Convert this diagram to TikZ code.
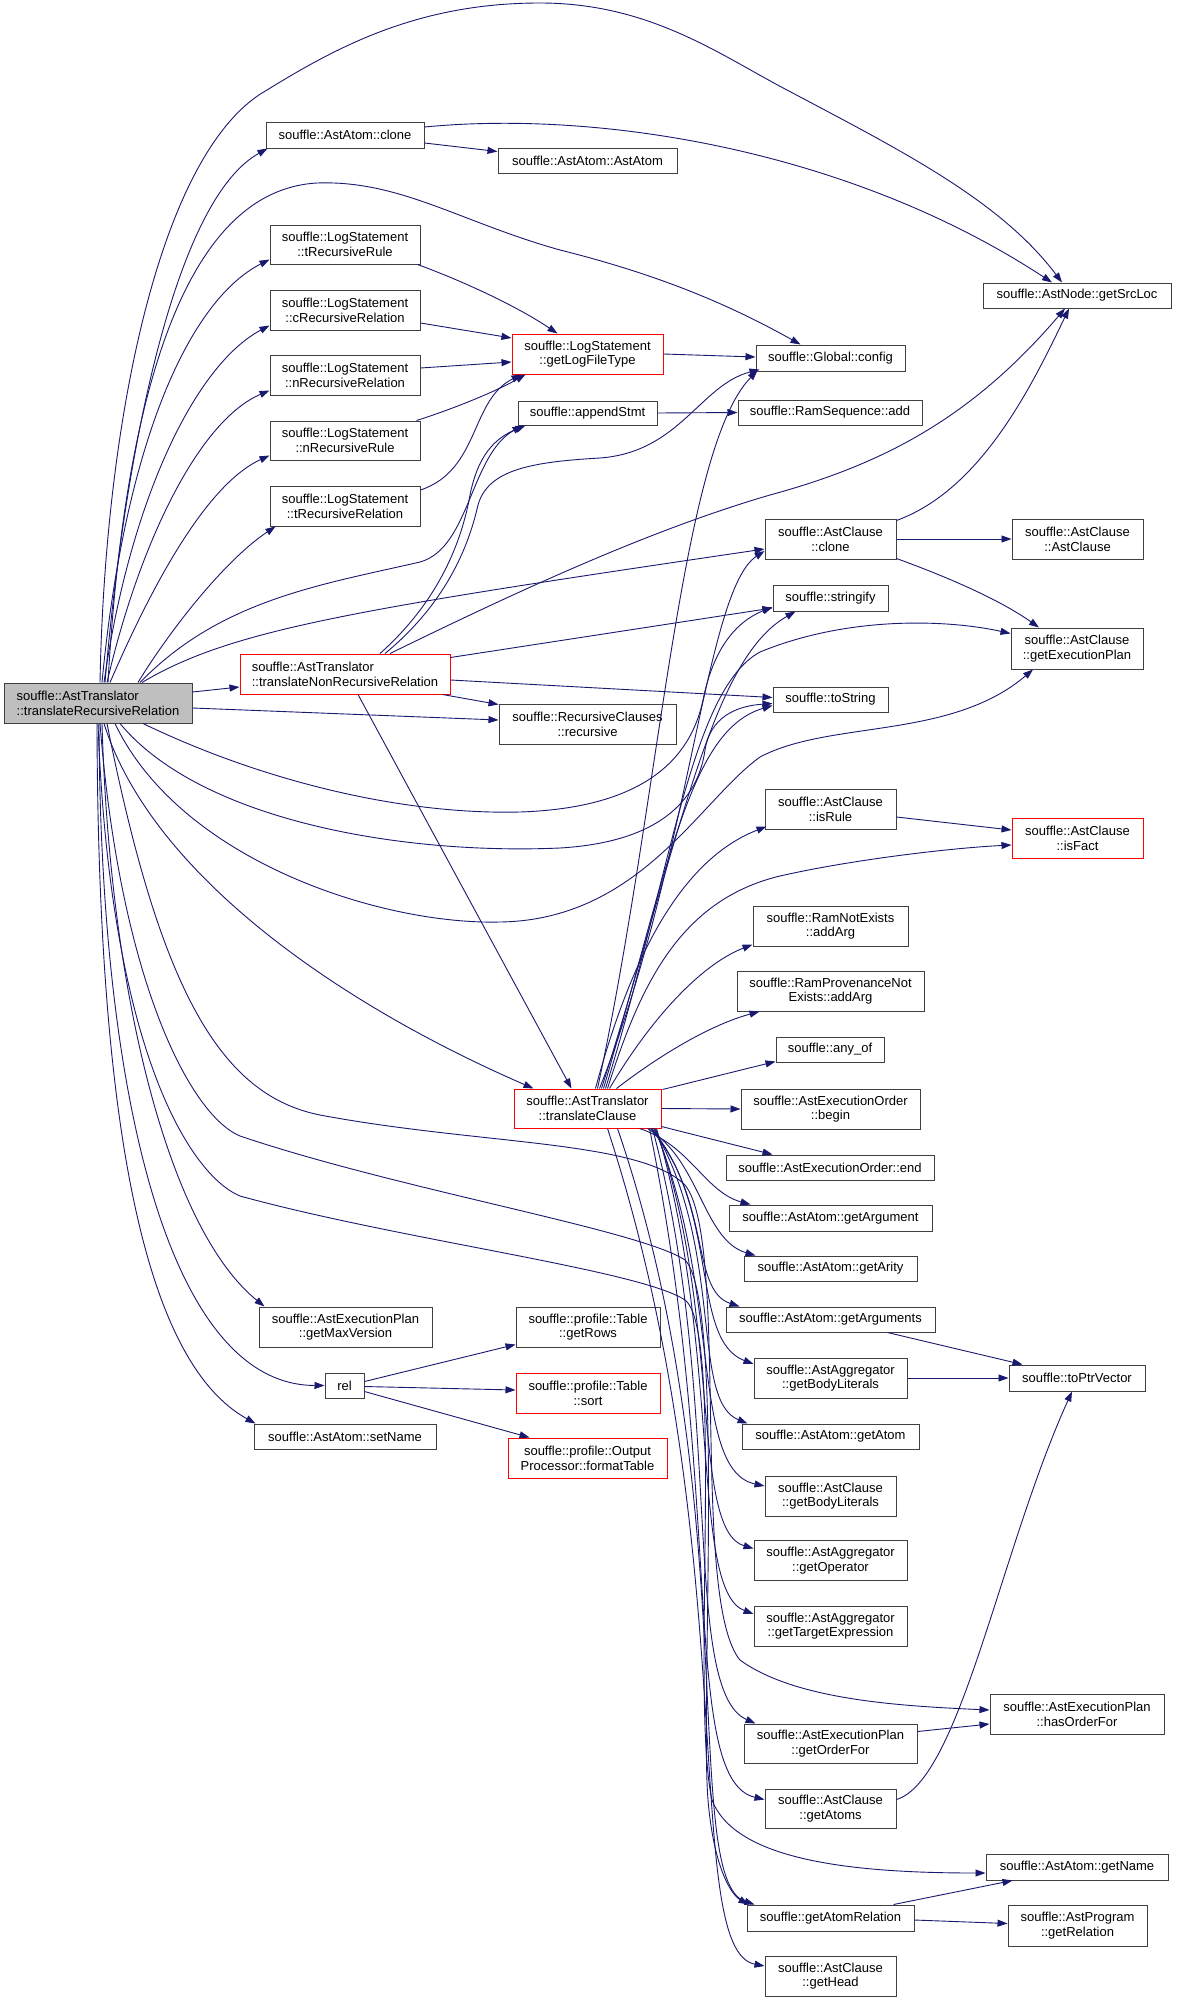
\documentclass[tikz,border=0pt]{standalone}
\usepackage{fontspec}
\setmainfont{Liberation Sans}
\usetikzlibrary{arrows.meta,calc}
\definecolor{edgeblue}{HTML}{191970}
\definecolor{boxgrey}{HTML}{BFBFBF}
\definecolor{boxline}{HTML}{404040}
\newcommand\nodefont{\fontsize{13}{14.7}\selectfont}
\tikzset{
  box/.style={draw=boxline, fill=white, line width=1pt, inner sep=0pt, align=center, font=\nodefont, text=black},
  redbox/.style={box, draw=red},
  wh/.style 2 args={minimum width=#1pt, minimum height=#2pt},
  e/.style={draw=edgeblue, line width=0.9pt, -{Triangle[length=10pt,width=7pt]}},
}
\begin{document}
\begin{tikzpicture}[x=1pt,y=-1pt]
\fill[white] (0,0) rectangle (1176,2002);
\useasboundingbox (0,0) rectangle (1176,2002);

% ---- nodes ----
\node[box,wh={188}{40},fill=boxgrey,align=left] (T) at (98,703) {souffle::AstTranslator\\::translateRecursiveRelation};
\node[box,wh={158}{26}] (aclone) at (345,135) {souffle::AstAtom::clone};
\node[box,wh={179}{25}] (aatom) at (587.5,160.5) {souffle::AstAtom::AstAtom};
\node[box,wh={150}{39}] (tRR) at (345,244.5) {souffle::LogStatement\\::tRecursiveRule};
\node[box,wh={150}{40}] (cRR) at (345,310) {souffle::LogStatement\\::cRecursiveRelation};
\node[box,wh={150}{40}] (nRRel) at (345,375) {souffle::LogStatement\\::nRecursiveRelation};
\node[box,wh={150}{39}] (nRRule) at (345,440.5) {souffle::LogStatement\\::nRecursiveRule};
\node[box,wh={150}{40}] (tRRel) at (345,506) {souffle::LogStatement\\::tRecursiveRelation};
\node[redbox,wh={151}{40}] (glft) at (587.5,354) {souffle::LogStatement\\::getLogFileType};
\node[box,wh={139}{24}] (apst) at (587.5,413) {souffle::appendStmt};
\node[box,wh={188}{25}] (srcloc) at (1077,295.5) {souffle::AstNode::getSrcLoc};
\node[box,wh={149}{26}] (config) at (830.5,358) {souffle::Global::config};
\node[box,wh={184}{25}] (ramadd) at (830,412.5) {souffle::RamSequence::add};
\node[box,wh={131}{40}] (cclone) at (830.5,539) {souffle::AstClause\\::clone};
\node[box,wh={131}{40}] (cctor) at (1077.5,539) {souffle::AstClause\\::AstClause};
\node[box,wh={115}{26}] (strfy) at (830.5,598) {souffle::stringify};
\node[box,wh={132}{41}] (gep) at (1077,648.5) {souffle::AstClause\\::getExecutionPlan};
\node[box,wh={115}{25}] (tostr) at (830.5,699.5) {souffle::toString};
\node[box,wh={131}{40}] (isrule) at (830.5,809) {souffle::AstClause\\::isRule};
\node[redbox,wh={131}{40}] (isfact) at (1077.5,838) {souffle::AstClause\\::isFact};
\node[redbox,wh={210}{40},align=left] (tnrr) at (345,674) {souffle::AstTranslator\\::translateNonRecursiveRelation};
\node[box,wh={177}{40}] (recur) at (587.5,724) {souffle::RecursiveClauses\\::recursive};
\node[redbox,wh={147}{39}] (tc) at (587.5,1108.5) {souffle::AstTranslator\\::translateClause};
\node[box,wh={155}{40}] (rneaa) at (830.5,926) {souffle::RamNotExists\\::addArg};
\node[box,wh={187}{40}] (rpnaa) at (830.5,991) {souffle::RamProvenanceNot\\Exists::addArg};
\node[box,wh={108}{25}] (anyof) at (830,1049.5) {souffle::any\_of};
\node[box,wh={179}{40}] (eobegin) at (830.5,1109) {souffle::AstExecutionOrder\\::begin};
\node[box,wh={208}{25}] (eoend) at (830,1167.5) {souffle::AstExecutionOrder::end};
\node[box,wh={203}{26}] (getarg) at (830.5,1218) {souffle::AstAtom::getArgument};
\node[box,wh={173}{25}] (getarity) at (830.5,1268.5) {souffle::AstAtom::getArity};
\node[box,wh={209}{25}] (getargs) at (830.5,1319.5) {souffle::AstAtom::getArguments};
\node[box,wh={136}{26}] (toptr) at (1077,1378) {souffle::toPtrVector};
\node[box,wh={153}{40}] (agbl) at (830.5,1378) {souffle::AstAggregator\\::getBodyLiterals};
\node[box,wh={177}{25}] (getatom) at (830.5,1436.5) {souffle::AstAtom::getAtom};
\node[box,wh={131}{40}] (cgbl) at (830.5,1496) {souffle::AstClause\\::getBodyLiterals};
\node[box,wh={153}{40}] (getop) at (830.5,1560.5) {souffle::AstAggregator\\::getOperator};
\node[box,wh={153}{40}] (gettarget) at (830.5,1626) {souffle::AstAggregator\\::getTargetExpression};
\node[box,wh={174}{40}] (hasorder) at (1077,1714) {souffle::AstExecutionPlan\\::hasOrderFor};
\node[box,wh={173}{39}] (getorder) at (830.5,1743.5) {souffle::AstExecutionPlan\\::getOrderFor};
\node[box,wh={131}{39}] (getatoms) at (830.5,1808.5) {souffle::AstClause\\::getAtoms};
\node[box,wh={182}{26}] (getname) at (1077,1867) {souffle::AstAtom::getName};
\node[box,wh={167}{26}] (getatomrel) at (830.5,1918) {souffle::getAtomRelation};
\node[box,wh={139}{41}] (getrel) at (1077.5,1925.5) {souffle::AstProgram\\::getRelation};
\node[box,wh={131}{40}] (gethead) at (830.5,1976) {souffle::AstClause\\::getHead};
\node[box,wh={173}{40}] (maxver) at (345.5,1327) {souffle::AstExecutionPlan\\::getMaxVersion};
\node[box,wh={39}{25}] (rel) at (344.5,1385.5) {rel};
\node[box,wh={182}{25}] (setname) at (345,1436.5) {souffle::AstAtom::setName};
\node[box,wh={144}{40}] (getrows) at (588,1327) {souffle::profile::Table\\::getRows};
\node[redbox,wh={144}{40}] (sort) at (588,1393) {souffle::profile::Table\\::sort};
\node[redbox,wh={159}{40}] (fmt) at (587.5,1458) {souffle::profile::Output\\Processor::formatTable};

% ---- edges from translateRecursiveRelation ----
\draw[e] ($(T.north)+(2,0)$) .. controls (105,420) and (160,150) .. (267,90) .. controls (340,45) and (420,3) .. (540,3) .. controls (650,3) and (720,55) .. (787,90) .. controls (900,150) and (1000,200) .. ($(srcloc.north)+(-15,0)$);
\draw[e] ($(T.north)+(7,0)$) .. controls (125,450) and (175,200) .. ($(aclone.south west)+(2,0)$);
\draw[e] ($(T.north)+(10,0)$) .. controls (125,380) and (190,190) .. (317,183) .. controls (400,180) and (460,222) .. (560,250) .. controls (660,275) and (730,305) .. ($(config.north)+(-30,0)$);
\draw[e] ($(T.north)+(4,0)$) .. controls (125,440) and (190,300) .. ($(tRR.south west)+(0,-5)$);
\draw[e] ($(T.north)+(6,0)$) .. controls (130,500) and (195,365) .. ($(cRR.south west)+(0,-5)$);
\draw[e] ($(T.north)+(9,0)$) .. controls (140,540) and (200,420) .. ($(nRRel.south west)+(0,-5)$);
\draw[e] ($(T.north)+(12,0)$) .. controls (150,590) and (205,485) .. ($(nRRule.south west)+(0,-5)$);
\draw[e] ($(T.north)+(40,0)$) .. controls (170,630) and (225,560) .. ($(tRRel.south west)+(6,0)$);
\draw[e] ($(T.north)+(42,0)$) .. controls (220,600) and (320,585) .. (420,562) .. controls (470,548) and (470,455) .. ($(apst.south west)+(5,0)$);
\draw[e] ($(T.north)+(44,0)$) .. controls (230,630) and (350,610) .. ($(cclone.west)+(0,10)$);
\draw[e] ($(T.east)+(0,-11)$) -- ($(tnrr.west)+(0,13)$);
\draw[e] ($(T.east)+(0,5)$) -- ($(recur.west)+(0,-4)$);
\draw[e] ($(T.south)+(45,0)$) .. controls (260,780) and (400,815) .. (520,812) .. controls (640,808) and (690,762) .. (703,700) .. controls (713,650) and (735,622) .. ($(strfy.west)+(0,9)$);
\draw[e] ($(T.south)+(22,0)$) .. controls (200,820) and (400,855) .. (560,848) .. controls (660,842) and (698,800) .. (705,750) .. controls (710,718) and (735,706) .. ($(tostr.west)+(0,4)$);
\draw[e] ($(T.south)+(17,0)$) .. controls (180,860) and (380,925) .. (500,922) .. controls (640,920) and (700,800) .. (760,757) .. controls (830,720) and (950,740) .. ($(gep.south)+(-44,0)$);
\draw[e] ($(T.south)+(6,0)$) .. controls (150,870) and (330,1000) .. ($(tc.north west)+(20,0)$);
\draw[e] ($(T.south)+(4,0)$) .. controls (110,1000) and (170,1230) .. ($(maxver.north west)+(6,0)$);
\draw[e] ($(T.south)+(1,0)$) .. controls (100,1100) and (170,1385) .. (rel.west);
\draw[e] ($(T.south)+(-1,0)$) .. controls (98,1150) and (150,1365) .. ($(setname.north west)+(2,0)$);
\draw[e] ($(T.south)+(9,0)$) .. controls (160,990) and (220,1095) .. (320,1115) .. controls (480,1145) and (640,1140) .. (685,1185) .. controls (730,1240) and (690,1600) .. (740,1660) .. controls (795,1700) and (900,1706) .. ($(hasorder.west)+(0,-4)$);
\draw[e] ($(T.south)+(2,0)$) .. controls (120,980) and (190,1115) .. (240,1136) .. controls (400,1190) and (640,1230) .. (685,1260) .. controls (725,1300) and (700,1700) .. (708,1800) .. controls (714,1870) and (732,1895) .. ($(getatomrel.north west)+(2,0)$);
\draw[e] (T.south) .. controls (110,1050) and (190,1175) .. (240,1196) .. controls (400,1240) and (640,1270) .. (685,1300) .. controls (725,1330) and (690,1700) .. (712,1800) .. controls (735,1860) and (850,1873) .. ($(getname.west)+(0,6)$);

% ---- AstAtom::clone / LogStatement ----
\draw[e] ($(aclone.east)+(0,-8)$) .. controls (600,110) and (850,150) .. ($(srcloc.north)+(-25,0)$);
\draw[e] ($(aclone.east)+(0,8)$) -- ($(aatom.west)+(0,-9)$);
\draw[e] (glft.east) -- ($(config.west)+(0,-1)$);
\draw[e] ($(tRR.south east)+(-3,0)$) .. controls (460,280) and (515,305) .. ($(glft.north)+(-30,0)$);
\draw[e] ($(cRR.east)+(0,13)$) -- ($(glft.west)+(0,-16)$);
\draw[e] ($(nRRel.east)+(0,-7)$) -- ($(glft.west)+(0,8)$);
\draw[e] ($(nRRule.north east)+(-4,0)$) .. controls (450,410) and (495,392) .. ($(glft.south west)+(14,0)$);
\draw[e] ($(tRRel.east)+(0,-16)$) .. controls (480,470) and (470,400) .. ($(glft.south west)+(10,0)$);
\draw[e] (apst.east) -- (ramadd.west);

% ---- translateNonRecursiveRelation ----
\draw[e] ($(tnrr.north)+(35,0)$) .. controls (440,600) and (462,540) .. (470,495) .. controls (478,455) and (495,438) .. ($(apst.south west)+(8,0)$);
\draw[e] ($(tnrr.north)+(40,0)$) .. controls (450,600) and (470,540) .. (478,505) .. controls (488,470) and (530,462) .. (600,458) .. controls (680,452) and (700,385) .. ($(config.south west)+(4,-2)$);
\draw[e] ($(tnrr.north)+(45,0)$) .. controls (520,590) and (650,530) .. (770,495) .. controls (880,465) and (970,420) .. ($(srcloc.south)+(-12,0)$);
\draw[e] ($(tnrr.south east)+(-8,0)$) -- ($(recur.north west)+(0,1)$);
\draw[e] ($(tnrr.north east)+(0,4)$) -- ($(strfy.west)+(0,10)$);
\draw[e] ($(tnrr.east)+(0,6)$) -- ($(tostr.west)+(0,-2)$);
\draw[e] ($(tnrr.south)+(13,0)$) -- ($(tc.north)+(-16,0)$);

% ---- AstClause::clone ----
\draw[e] ($(cclone.north east)+(0,2)$) .. controls (980,490) and (1030,390) .. ($(srcloc.south)+(-8,0)$);
\draw[e] (cclone.east) -- (cctor.west);
\draw[e] ($(cclone.south east)+(0,-1)$) .. controls (950,578) and (1000,600) .. ($(gep.north)+(-38,0)$);
\draw[e] ($(isrule.east)+(0,8)$) -- ($(isfact.west)+(0,-8)$);

% ---- translateClause upward ----
\draw[e] ($(tc.north)+(10,0)$) .. controls (660,800) and (680,450) .. ($(config.south west)+(2,-1)$);
\draw[e] ($(tc.north)+(12,0)$) .. controls (690,860) and (705,590) .. ($(cclone.west)+(0,12)$);
\draw[e] ($(tc.north)+(14,0)$) .. controls (680,840) and (710,660) .. ($(strfy.south)+(-35,0)$);
\draw[e] ($(tc.north)+(16,0)$) .. controls (670,860) and (690,730) .. ($(tostr.west)+(0,6)$);
\draw[e] ($(tc.north)+(18,0)$) .. controls (670,880) and (690,690) .. (760,652) .. controls (850,615) and (950,620) .. ($(gep.west)+(0,-15)$);
\draw[e] ($(tc.north)+(8,0)$) .. controls (630,960) and (680,860) .. ($(isrule.south west)+(2,-3)$);
\draw[e] ($(tc.north)+(20,0)$) .. controls (640,985) and (680,900) .. (780,876) .. controls (850,860) and (950,848) .. ($(isfact.west)+(0,7)$);
\draw[e] ($(tc.north)+(22,0)$) .. controls (650,1020) and (700,965) .. ($(rneaa.south west)+(0,-2)$);
\draw[e] ($(tc.north east)+(-45,0)$) .. controls (660,1055) and (710,1025) .. ($(rpnaa.south west)+(23,0)$);
\draw[e] ($(tc.north east)+(1,1)$) -- ($(anyof.south west)+(0,-1)$);
\draw[e] (tc.east) -- (eobegin.west);
\draw[e] ($(tc.south east)+(0,-2)$) -- ($(eoend.north west)+(47,0)$);

% ---- translateClause downward fan ----
\draw[e] ($(tc.south)+(52,0)$) .. controls (690,1145) and (705,1192) .. ($(getarg.north west)+(22,0)$);
\draw[e] ($(tc.south)+(60,0)$) .. controls (700,1160) and (703,1240) .. ($(getarity.north west)+(12,0)$);
\draw[e] ($(tc.south)+(63,0)$) .. controls (712,1200) and (690,1290) .. ($(getargs.north west)+(14,0)$);
\draw[e] ($(tc.south)+(64,0)$) .. controls (720,1210) and (690,1340) .. ($(agbl.west)+(0,-14)$);
\draw[e] ($(tc.south)+(66,0)$) .. controls (725,1250) and (690,1400) .. ($(getatom.north west)+(6,0)$);
\draw[e] ($(tc.south)+(67,0)$) .. controls (722,1290) and (690,1470) .. ($(cgbl.west)+(0,-10)$);
\draw[e] ($(tc.south)+(68,0)$) .. controls (722,1310) and (690,1530) .. ($(getop.west)+(0,-12)$);
\draw[e] ($(tc.south)+(69,0)$) .. controls (722,1350) and (690,1590) .. ($(gettarget.west)+(0,-12)$);
\draw[e] ($(tc.south)+(65,0)$) .. controls (725,1400) and (680,1690) .. ($(getorder.north west)+(12,0)$);
\draw[e] ($(tc.south)+(62,0)$) .. controls (725,1500) and (680,1780) .. ($(getatoms.west)+(0,-9)$);
\draw[e] ($(tc.south)+(30,0)$) .. controls (745,1500) and (680,1880) .. ($(getatomrel.north west)+(8,0)$);
\draw[e] ($(tc.south)+(20,0)$) .. controls (745,1550) and (680,1950) .. ($(gethead.west)+(0,-10)$);

% ---- right-hand edges ----
\draw[e] ($(getargs.south east)+(-48,0)$) -- ($(toptr.north west)+(14,0)$);
\draw[e] (agbl.east) -- (toptr.west);
\draw[e] ($(getatoms.east)+(0,-9)$) .. controls (960,1780) and (1000,1550) .. ($(toptr.south)+(-5,0)$);
\draw[e] ($(getorder.east)+(0,-12)$) -- ($(hasorder.west)+(0,10)$);
\draw[e] ($(getatomrel.north east)+(-21,0)$) -- ($(getname.south west)+(27,0)$);
\draw[e] ($(getatomrel.east)+(0,2)$) -- ($(getrel.west)+(0,-2)$);

% ---- rel ----
\draw[e] ($(rel.east)+(0,-4)$) -- ($(getrows.south west)+(0,-3)$);
\draw[e] ($(rel.east)+(0,1)$) -- ($(sort.west)+(0,-3)$);
\draw[e] ($(rel.east)+(0,6)$) -- ($(fmt.north west)+(22,0)$);
\end{tikzpicture}
\end{document}
